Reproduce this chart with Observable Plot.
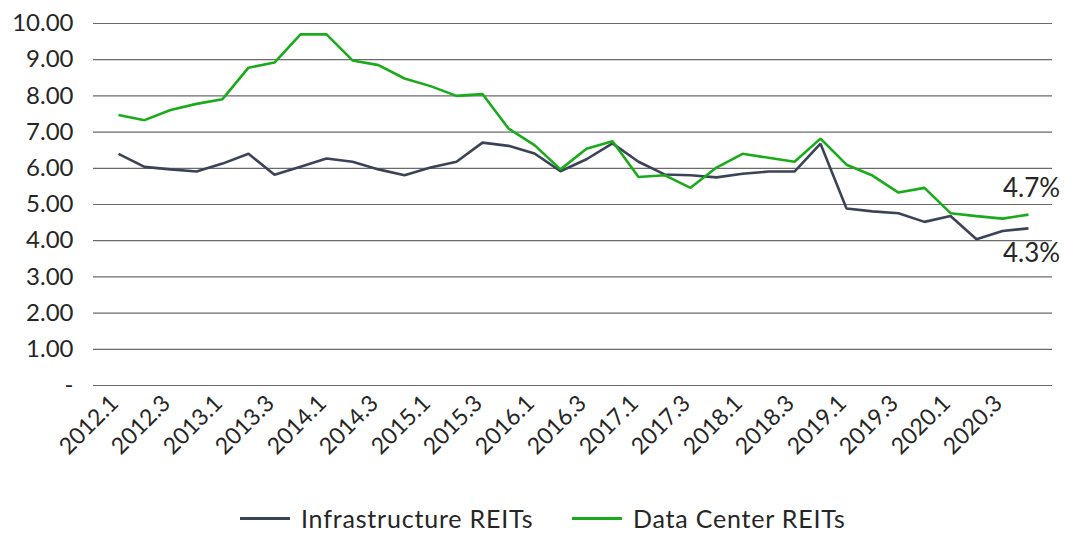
<!DOCTYPE html>
<html>
<head>
<meta charset="utf-8">
<script src="https://cdn.jsdelivr.net/npm/d3@7"></script>
<script src="https://cdn.jsdelivr.net/npm/@observablehq/plot@0.6"></script>
<style>
  body { margin: 0; background: #fff; font-family: Lato, "Noto Sans", sans-serif; color: #262626; overflow: hidden; }
  #legend { position: relative; height: 27px; font-size: 25px; letter-spacing: 0.8px; line-height: 27px; color: #262626; }
  .item { position: absolute; top: 0; display: flex; align-items: center; height: 27px; white-space: nowrap; }
  .swatch { width: 50px; height: 3px; margin-right: 11px; }
</style>
</head>
<body>
<div id="chart"></div>
<div id="legend"></div>
<script>
const quarters = [
  "2012.1","2012.2","2012.3","2012.4","2013.1","2013.2","2013.3","2013.4",
  "2014.1","2014.2","2014.3","2014.4","2015.1","2015.2","2015.3","2015.4",
  "2016.1","2016.2","2016.3","2016.4","2017.1","2017.2","2017.3","2017.4",
  "2018.1","2018.2","2018.3","2018.4","2019.1","2019.2","2019.3","2019.4",
  "2020.1","2020.2","2020.3","2020.4"
];
const tickLabels = [
  "2012.1","2012.3","2013.1","2013.3","2014.1","2014.3","2015.1","2015.3","2016.1",
  "2016.3","2017.1","2017.3","2018.1","2018.3","2019.1","2019.3","2020.1","2020.3"
];
const infrastructure = [
  6.40, 6.04, 5.97, 5.91, 6.13, 6.40, 5.82, 6.04, 6.27, 6.18, 5.97, 5.81,
  6.02, 6.18, 6.71, 6.62, 6.41, 5.92, 6.25, 6.69, 6.18, 5.83, 5.81, 5.75,
  5.85, 5.91, 5.91, 6.68, 4.89, 4.81, 4.76, 4.52, 4.68, 4.04, 4.27, 4.34
];
const dataCenter = [
  7.47, 7.33, 7.61, 7.78, 7.91, 8.78, 8.92, 9.70, 9.70, 8.98, 8.85, 8.48,
  8.27, 8.00, 8.05, 7.10, 6.64, 5.97, 6.54, 6.75, 5.76, 5.81, 5.46, 6.02,
  6.40, 6.29, 6.18, 6.82, 6.10, 5.80, 5.33, 5.46, 4.76, 4.68, 4.61, 4.72
];
const seriesNames = ["Infrastructure REITs", "Data Center REITs"];
const seriesColors = ["#3b4357", "#1aab1a"];
const yTicks = [0, 1, 2, 3, 4, 5, 6, 7, 8, 9, 10];

const rows = [];
quarters.forEach((q, i) => {
  rows.push({q, v: infrastructure[i], s: seriesNames[0]});
  rows.push({q, v: dataCenter[i], s: seriesNames[1]});
});
const lastQ = quarters[quarters.length - 1];
const lastGreen = [{q: lastQ, v: dataCenter[dataCenter.length - 1]}];
const lastDark = [{q: lastQ, v: infrastructure[infrastructure.length - 1]}];

const chart = Plot.plot({
  width: 1082,
  height: 505,
  marginLeft: 93,
  marginRight: 30,
  marginTop: 23,
  marginBottom: 120,
  style: { fontFamily: "Lato, 'Noto Sans', sans-serif", color: "#262626", background: "#fff", overflow: "visible" },
  x: { type: "point", domain: quarters, padding: 0.5, label: null },
  y: { domain: [0, 10], label: null },
  color: { domain: seriesNames, range: seriesColors },
  marks: [
    Plot.ruleY(yTicks, { stroke: "#6a6a6a", strokeWidth: 1.2 }),
    Plot.axisY(yTicks, {
      tickSize: 0, tickPadding: 20, fontSize: 24, label: null,
      tickFormat: d => d === 0 ? "-" : d.toFixed(2)
    }),
    Plot.axisX(tickLabels, {
      tickSize: 0, tickPadding: 14, tickRotate: -45, fontSize: 23, dx: -4, label: null
    }),
    Plot.line(rows, { x: "q", y: "v", z: "s", stroke: "s", strokeWidth: 2.6, strokeLinejoin: "miter", strokeLinecap: "butt" }),
    Plot.text(lastGreen, { x: "q", y: "v", text: d => d.v.toFixed(1) + "%", dx: 3, dy: -18, lineAnchor: "bottom", fontSize: 26, fill: "#262626" }),
    Plot.text(lastDark, { x: "q", y: "v", text: d => d.v.toFixed(1) + "%", dx: 3, dy: 34, lineAnchor: "bottom", fontSize: 26, fill: "#262626" })
  ]
});
document.getElementById("chart").appendChild(chart);

const legend = document.getElementById("legend");
const legendLeft = [240, 572];
seriesNames.forEach((name, i) => {
  const item = document.createElement("div");
  item.className = "item";
  item.style.left = legendLeft[i] + "px";
  const sw = document.createElement("div");
  sw.className = "swatch";
  sw.style.background = seriesColors[i];
  const t = document.createElement("span");
  t.textContent = name;
  item.appendChild(sw);
  item.appendChild(t);
  legend.appendChild(item);
});
</script>
</body>
</html>
